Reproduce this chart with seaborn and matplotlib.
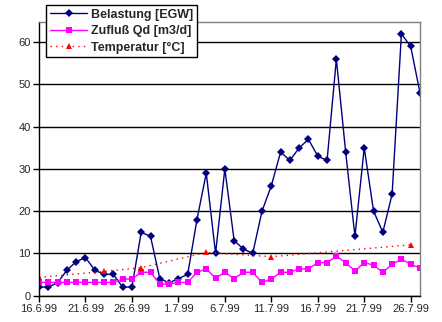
import matplotlib
matplotlib.use("Agg")
import matplotlib.pyplot as plt
import seaborn as sns
import pandas as pd
import numpy as np

dates = pd.date_range("1999-06-16", "1999-07-27", freq="D")
belastung = [2, 2, 3, 6, 8, 9, 6, 5, 5, 2, 2, 15, 14, 4, 3, 4, 5, 18, 29, 10,
             30, 13, 11, 10, 20, 26, 34, 32, 35, 37, 33, 32, 56, 34, 14, 35, 20, 15, 24, 62,
             59, 48]
zufluss = [3.1, 3.1, 3.1, 3.1, 3.1, 3.1, 3.1, 3.1, 3.1, 3.9, 3.9, 5.5, 5.5, 2.7, 2.7, 3.1,
           3.1, 5.5, 6.3, 4.1, 5.5, 4.0, 5.5, 5.5, 3.1, 3.9, 5.5, 5.5, 6.3, 6.3, 7.8, 7.8,
           9.3, 7.8, 5.8, 7.8, 7.2, 5.5, 7.4, 8.6, 7.4, 6.5]
temp_dates = pd.to_datetime(["1999-06-16", "1999-06-23", "1999-06-27", "1999-07-04",
                             "1999-07-11", "1999-07-26"])
temperatur = [4.3, 5.7, 6.6, 10.2, 9.2, 12.0]
tick_dates = pd.to_datetime(["1999-06-16", "1999-06-21", "1999-06-26", "1999-07-01",
                             "1999-07-06", "1999-07-11", "1999-07-16", "1999-07-21",
                             "1999-07-26"])
tick_labels = ["16.6.99", "21.6.99", "26.6.99", "1.7.99", "6.7.99", "11.7.99",
               "16.7.99", "21.7.99", "26.7.99"]

df = pd.DataFrame({"Datum": dates, "Belastung": belastung, "Zufluss": zufluss})
dft = pd.DataFrame({"Datum": temp_dates, "Temperatur": temperatur})

sns.set_style("white")
plt.rcParams["font.family"] = ["Liberation Sans", "DejaVu Sans"]

fig = plt.figure(figsize=(4.42, 3.22), dpi=100)
ax = fig.add_axes([39 / 442, 1 - 295.5 / 322, 381 / 442, 273.5 / 322])

sns.lineplot(data=df, x="Datum", y="Belastung", ax=ax, color="#000080", lw=1.0,
             marker="D", markersize=4, markeredgewidth=0, label="Belastung [EGW]")
sns.lineplot(data=df, x="Datum", y="Zufluss", ax=ax, color="#FF00FF", lw=1.0,
             marker="s", markersize=5, markeredgewidth=0, label="Zufluß Qd [m3/d]")
sns.lineplot(data=dft, x="Datum", y="Temperatur", ax=ax, color="#FF0000", lw=1.0,
             linestyle=(0, (1, 3)), marker="^", markersize=5, markeredgewidth=0,
             label="Temperatur [°C]")

ax.set_xlim(dates[0], dates[-1])
ax.set_ylim(0, 64.8)
ax.set_yticks([0, 10, 20, 30, 40, 50, 60])
ax.set_xticks(tick_dates)
ax.set_xticklabels(tick_labels)
ax.set_xlabel("")
ax.set_ylabel("")
ax.grid(axis="y", color="black", lw=1.0)
ax.grid(axis="x", visible=False)
ax.set_axisbelow(True)
for s in ["top", "right"]:
    ax.spines[s].set_color("#808080")
    ax.spines[s].set_linewidth(1.0)
for s in ["left", "bottom"]:
    ax.spines[s].set_color("black")
    ax.spines[s].set_linewidth(1.0)
ax.tick_params(axis="both", direction="out", length=4, width=1, color="black",
               labelsize=8, pad=2, bottom=True, left=True)

leg = ax.legend(loc="upper left", bbox_to_anchor=(46 / 442, 1 - 5 / 322),
                bbox_transform=fig.transFigure, frameon=True, fancybox=False,
                shadow=False, framealpha=1, edgecolor="black", borderpad=0.3,
                borderaxespad=0, labelspacing=0.35, handlelength=3.0, handletextpad=0.3,
                prop={"weight": "bold", "size": 9})
leg.get_frame().set_linewidth(1.0)

fig.savefig("out.png", dpi=100)
